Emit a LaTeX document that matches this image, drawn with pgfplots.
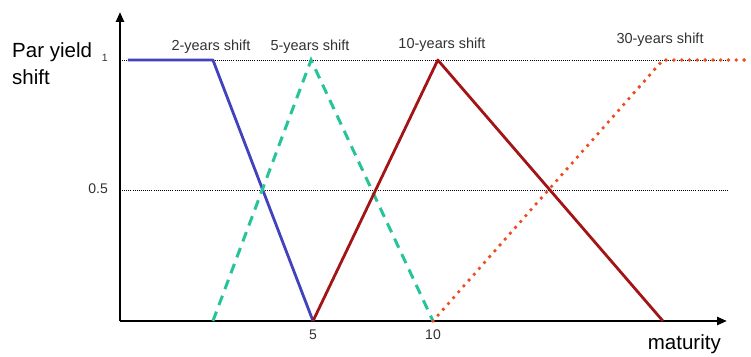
\documentclass[border=0pt]{standalone}
\usepackage{pgfplots}
\pgfplotsset{compat=1.18}
\usepackage{fontspec}
\setmainfont{Liberation Sans}
\usetikzlibrary{arrows.meta}

\definecolor{shiftblue}{RGB}{66,66,190}
\definecolor{shiftteal}{RGB}{38,196,152}
\definecolor{shiftred}{RGB}{162,20,22}
\definecolor{shiftorange}{RGB}{236,76,30}
\definecolor{labelgray}{RGB}{50,50,50}

\begin{document}
\begin{tikzpicture}
\begin{axis}[
  scale only axis, width=607pt, height=309pt,
  xmin=-3.042, xmax=22.25, ymin=0, ymax=1.184,
  axis lines=left,
  axis line style={line width=2.4pt, -{Triangle[length=10pt,width=8pt]}},
  xtick={5,10}, ytick={0.5,1},
  yticklabels={0.5,{\fontsize{10.5}{12}\selectfont 1}},
  major tick length=0pt,
  ymajorgrids,
  grid style={black, line width=0.9pt, dash pattern=on 0.9pt off 1.2pt},
  tick label style={font=\fontsize{14}{16}\selectfont, text=labelgray, inner sep=0pt},
  /pgf/number format/assume math mode=true,
  xticklabel style={yshift=-9pt},
  yticklabel style={xshift=-12pt, yshift=2pt},
  clip=false,
]
% 2-year key-rate shift
\addplot[shiftblue, line width=2.8pt, line join=round]
  coordinates {(-2.71,1) (0.83,1) (5,0)};
% 5-year key-rate shift
\addplot[shiftteal, line width=3pt, dash pattern=on 10pt off 7pt]
  coordinates {(0.83,0) (4.92,1) (10,0)};
% 10-year key-rate shift
\addplot[shiftred, line width=2.8pt, line join=round]
  coordinates {(5,0) (10.2,1) (19.58,0)};
% 30-year key-rate shift
\addplot[shiftorange, line width=3.8pt, line cap=round, dash pattern=on 0pt off 7.8pt]
  coordinates {(10,0) (19.58,1) (23.25,1)};

\node[font=\fontsize{14.5}{16}\selectfont, text=labelgray] at (axis cs:0.75,1.050) {2-years shift};
\node[font=\fontsize{14.5}{16}\selectfont, text=labelgray] at (axis cs:4.875,1.050) {5-years shift};
\node[font=\fontsize{14.5}{16}\selectfont, text=labelgray] at (axis cs:10.375,1.057) {10-years shift};
\node[font=\fontsize{14.5}{16}\selectfont, text=labelgray] at (axis cs:19.46,1.077) {30-years shift};

\node[font=\fontsize{20.5}{24}\selectfont, anchor=base west, inner sep=0pt] at (axis cs:-7.54,1.0115) {Par yield};
\node[font=\fontsize{20.5}{24}\selectfont, anchor=base west, inner sep=0pt] at (axis cs:-7.54,0.908) {shift};
\node[font=\fontsize{20.5}{24}\selectfont, anchor=base east, inner sep=0pt] at (axis cs:22.0,-0.1111) {maturity};

\coordinate (bbll) at (rel axis cs:-0.19769,-0.11327);
\coordinate (bbur) at (rel axis cs:1.03954,1.03883);
\end{axis}
\pgfresetboundingbox
\useasboundingbox (bbll) rectangle (bbur);
\end{tikzpicture}
\end{document}
